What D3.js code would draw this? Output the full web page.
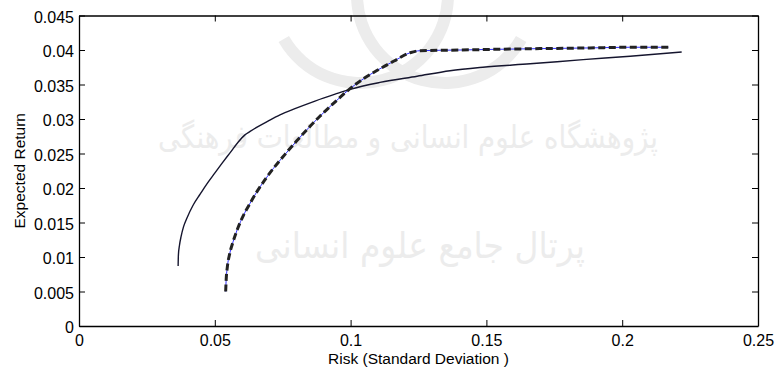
<!DOCTYPE html>
<html>
<head>
<meta charset="utf-8">
<script src="https://cdn.jsdelivr.net/npm/d3@7"></script>
<style>
  html, body { margin: 0; padding: 0; background: #fff; }
  svg { display: block; font-family: "Liberation Sans", Arial, sans-serif; }
</style>
</head>
<body>
<svg id="chart" width="777" height="371"></svg>
<script>
// frontier 1 (solid)
const solidRisk   = [0.0365, 0.0366, 0.0370, 0.0376, 0.0385, 0.0398, 0.0420, 0.0446, 0.0471, 0.0497, 0.0527, 0.0556, 0.0585, 0.0611, 0.0630, 0.0659, 0.0696, 0.0740, 0.0795, 0.0869, 0.0943, 0.0998, 0.1108, 0.1245, 0.1366, 0.1487, 0.1661, 0.1856, 0.2029, 0.2219];
const solidReturn = [0.0087, 0.0103, 0.0117, 0.0130, 0.0144, 0.0157, 0.0175, 0.0191, 0.0206, 0.0220, 0.0236, 0.0251, 0.0266, 0.0277, 0.0282, 0.0289, 0.0297, 0.0306, 0.0315, 0.0326, 0.0336, 0.0343, 0.0353, 0.0362, 0.0370, 0.0375, 0.0380, 0.0386, 0.0391, 0.0397];

// frontier 2 (dashed)
const dashRisk   = [0.0540, 0.0542, 0.0546, 0.0555, 0.0568, 0.0585, 0.0605, 0.0630, 0.0654, 0.0683, 0.0715, 0.0757, 0.0801, 0.0845, 0.0887, 0.0949, 0.0998, 0.1050, 0.1100, 0.1160, 0.1219, 0.1256, 0.1403, 0.1538, 0.1697, 0.1881, 0.2028, 0.2170];
const dashReturn = [0.0050, 0.0068, 0.0085, 0.0105, 0.0123, 0.0142, 0.0160, 0.0178, 0.0194, 0.0211, 0.0228, 0.0248, 0.0268, 0.0287, 0.0304, 0.0327, 0.0344, 0.0359, 0.0371, 0.0384, 0.0396, 0.0399, 0.0400, 0.0401, 0.0402, 0.0403, 0.0404, 0.0404];

const xTicks = [0, 0.05, 0.1, 0.15, 0.2, 0.25];
const yTicks = [0, 0.005, 0.01, 0.015, 0.02, 0.025, 0.03, 0.035, 0.04, 0.045];

const m = { left: 79, right: 758, top: 15.5, bottom: 326 };
const fs = 15.5;

const svg = d3.select("#chart");

// faint watermark behind the plot (logo arcs + two lines of text)
const wm = svg.append("g").attr("fill", "#ececec");
const ring = d3.arc().innerRadius(82).outerRadius(94);
const deg = Math.PI / 180;
wm.append("path").attr("transform", "translate(360,-5)")
    .attr("d", ring({ startAngle: 90 * deg, endAngle: 240 * deg }));
wm.append("path").attr("transform", "translate(445,-5)")
    .attr("d", ring({ startAngle: 120 * deg, endAngle: 270 * deg }));

const wt = wm.append("g").attr("font-family", "DejaVu Sans").attr("text-anchor", "middle");
wt.append("text").attr("x", 408).attr("y", 148).attr("font-size", 32)
    .attr("textLength", 500).attr("lengthAdjust", "spacingAndGlyphs")
    .text("پژوهشگاه علوم انسانی و مطالعات فرهنگی");
wt.append("text").attr("x", 420).attr("y", 258).attr("font-size", 36)
    .attr("textLength", 330).attr("lengthAdjust", "spacingAndGlyphs")
    .text("پرتال جامع علوم انسانی");

const x = d3.scaleLinear().domain([0, 0.25]).range([m.left, m.right]);
const y = d3.scaleLinear().domain([0, 0.045]).range([m.bottom, m.top]);

// axes, MATLAB style: ticks inside on all four sides
svg.append("g").attr("transform", `translate(0,${m.bottom})`)
    .call(d3.axisBottom(x).tickValues(xTicks).tickFormat(d3.format("~g"))
        .tickSizeInner(-6).tickSizeOuter(0).tickPadding(9));
const axL = svg.append("g").attr("transform", `translate(${m.left},0)`)
    .call(d3.axisLeft(y).tickValues(yTicks).tickFormat(d3.format("~g"))
        .tickSizeInner(-6).tickSizeOuter(0).tickPadding(5));
svg.append("g").attr("transform", `translate(0,${m.top})`)
    .call(d3.axisTop(x).tickValues(xTicks).tickFormat("")
        .tickSizeInner(-6).tickSizeOuter(0));
svg.append("g").attr("transform", `translate(${m.right},0)`)
    .call(d3.axisRight(y).tickValues(yTicks).tickFormat("")
        .tickSizeInner(-6).tickSizeOuter(0));

svg.selectAll(".domain").attr("stroke", "#000").attr("stroke-width", 1.3);
svg.selectAll(".tick line").attr("stroke", "#000").attr("stroke-width", 1);
svg.selectAll(".tick text").attr("font-size", 16).attr("fill", "#000")
    .attr("font-family", "Liberation Sans, Arial, sans-serif");
axL.selectAll(".tick text").attr("dy", "0.42em");

// lines
const line = d3.line()
    .x(d => x(d[0]))
    .y(d => y(d[1]))
    .curve(d3.curveMonotoneX);

const solid = solidRisk.map((r, i) => [r, solidReturn[i]]);
const dashed = dashRisk.map((r, i) => [r, dashReturn[i]]);

svg.append("path").datum(solid)
    .attr("fill", "none").attr("stroke", "#15152e").attr("stroke-width", 1.4)
    .attr("d", line);

svg.append("path").datum(dashed)
    .attr("fill", "none").attr("stroke", "#2f2fff").attr("stroke-width", 1)
    .attr("d", line);
svg.append("path").datum(dashed)
    .attr("fill", "none").attr("stroke", "#222").attr("stroke-width", 3)
    .attr("stroke-dasharray", "7,3.5")
    .attr("d", line);

// axis labels
svg.append("text")
    .attr("x", (m.left + m.right) / 2).attr("y", 364)
    .attr("text-anchor", "middle").attr("font-size", fs)
    .text("Risk (Standard Deviation )");

svg.append("text")
    .attr("transform", `translate(25,${(m.top + m.bottom) / 2}) rotate(-90)`)
    .attr("text-anchor", "middle").attr("font-size", fs)
    .text("Expected Return");
</script>
</body>
</html>
